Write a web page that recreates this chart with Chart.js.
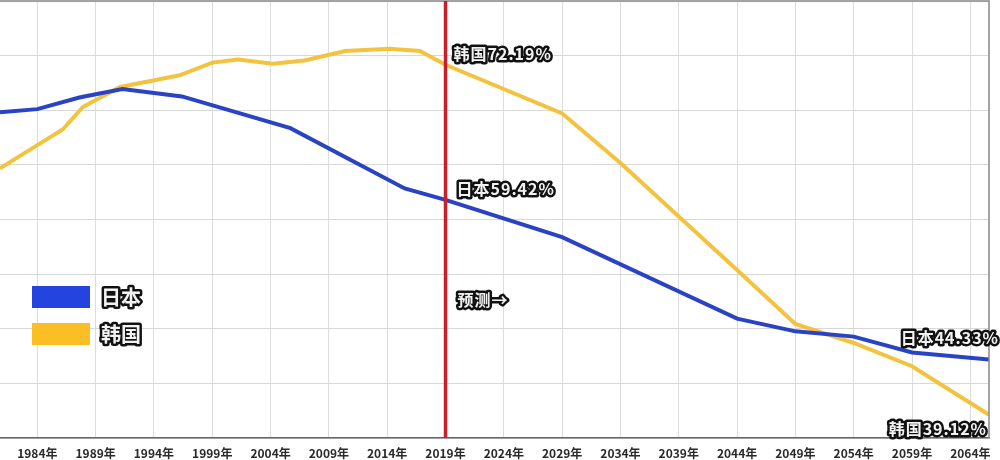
<!DOCTYPE html>
<html lang="zh-CN">
<head>
    <meta charset="UTF-8">
    <title>日本 韩国</title>
    <script src="https://cdn.jsdelivr.net/npm/chart.js"></script>
    <style>
        body {
            margin: 0;
            padding: 0;
            background: #fff;
        }
        .chart-box {
            width: 1000px;
            height: 460px;
        }
    </style>
</head>
<body>
    <div class="chart-box">
        <canvas id="ratioChart"></canvas>
    </div>
    <script>
        // 数据
        const japanYears = [1980.8, 1984, 1987.6, 1991.3, 1996.4, 2005.7, 2015.5, 2019, 2029, 2044, 2049, 2054, 2059, 2065.6];
        const japanValues = [67.7, 68.0, 69.1, 69.9, 69.2, 66.2, 60.5, 59.42, 55.9, 48.2, 47.0, 46.5, 45.0, 44.33];

        const koreaYears = [1980.8, 1984, 1986.2, 1987.9, 1991.1, 1996.2, 1999, 2001.2, 2004.2, 2006.9, 2010.4, 2014.2, 2016.8, 2019, 2029, 2034, 2044, 2049, 2054, 2059, 2065.6];
        const koreaValues = [62.4, 64.6, 66.1, 68.2, 70.1, 71.2, 72.4, 72.7, 72.3, 72.6, 73.5, 73.7, 73.5, 72.19, 67.6, 62.9, 52.8, 47.7, 45.9, 43.7, 39.12];

        const tickYears = [1979, 1984, 1989, 1994, 1999, 2004, 2009, 2014, 2019, 2024, 2029, 2034, 2039, 2044, 2049, 2054, 2059, 2064];
        const tickLabels = ['1979年', '1984年', '1989年', '1994年', '1999年', '2004年', '2009年', '2014年', '2019年', '2024年', '2029年', '2034年', '2039年', '2044年', '2049年', '2054年', '2059年', '2064年'];

        const forecastYear = 2019;
        const forecastText = '预测→';

        const BLUE = '#2a43c4';
        const YELLOW = '#f3c33f';
        const FONT = '"Noto Sans CJK SC", "Noto Sans", sans-serif';

        function toPoints(xs, ys) {
            return xs.map((x, i) => ({ x: x, y: ys[i] }));
        }

        // 黑边白字
        function outlineText(ctx, text, x, y, size, align, spacing) {
            ctx.save();
            ctx.font = 'bold ' + size + 'px ' + FONT;
            ctx.letterSpacing = (spacing || 0) + 'px';
            ctx.textAlign = align || 'left';
            ctx.textBaseline = 'middle';
            ctx.lineJoin = 'round';
            ctx.lineWidth = 5;
            ctx.strokeStyle = '#111';
            ctx.strokeText(text, x, y);
            ctx.fillStyle = '#f2f2f2';
            ctx.fillText(text, x, y);
            ctx.restore();
        }

        const overlay = {
            id: 'overlay',
            beforeDraw(chart) {
                const ctx = chart.ctx;
                ctx.save();
                ctx.fillStyle = '#fff';
                ctx.fillRect(0, 0, chart.width, chart.height);
                ctx.restore();
            },
            afterDatasetsDraw(chart) {
                const ctx = chart.ctx;
                const area = chart.chartArea;
                const x = chart.scales.x;
                const y = chart.scales.y;

                // 边框
                ctx.save();
                ctx.strokeStyle = '#888';
                ctx.lineWidth = 1.5;
                ctx.beginPath();
                ctx.moveTo(area.left, area.top);
                ctx.lineTo(area.right, area.top);
                ctx.lineTo(area.right, area.bottom);
                ctx.stroke();

                // 预测分界线
                const fx = x.getPixelForValue(forecastYear);
                ctx.strokeStyle = '#c8202a';
                ctx.lineWidth = 3.5;
                ctx.beginPath();
                ctx.moveTo(fx, area.top);
                ctx.lineTo(fx, area.bottom);
                ctx.stroke();
                ctx.restore();

                // 数值标注
                const jIdx = japanYears.indexOf(forecastYear);
                const kIdx = koreaYears.indexOf(forecastYear);
                const jLast = japanValues.length - 1;
                const kLast = koreaValues.length - 1;
                outlineText(ctx, '韩国' + koreaValues[kIdx].toFixed(2) + '%', fx + 8, y.getPixelForValue(koreaValues[kIdx]) - 11, 16, 'left', 1);
                outlineText(ctx, '日本' + japanValues[jIdx].toFixed(2) + '%', fx + 11, y.getPixelForValue(japanValues[jIdx]) - 11, 16, 'left', 1);
                outlineText(ctx, '日本' + japanValues[jLast].toFixed(2) + '%', x.getPixelForValue(japanYears[jLast]) + 10, y.getPixelForValue(japanValues[jLast]) - 22, 16, 'right', 1);
                outlineText(ctx, '韩国' + koreaValues[kLast].toFixed(2) + '%', x.getPixelForValue(koreaYears[kLast]) - 2, y.getPixelForValue(koreaValues[kLast]) + 14, 16, 'right', 1);
                outlineText(ctx, forecastText, fx + 12, y.getPixelForValue(50), 16, 'left', 1);

                // 图例
                chart.data.datasets.forEach((ds, i) => {
                    const top = area.top + 285 + i * 37;
                    ctx.fillStyle = i === 0 ? '#2344de' : '#fbbf25';
                    ctx.fillRect(area.left + 32, top, 58, 22);
                    outlineText(ctx, ds.label, area.left + 101, top + 11, 20, 'left', 0);
                });
            }
        };

        const ctx = document.getElementById('ratioChart').getContext('2d');
        new Chart(ctx, {
            type: 'line',
            data: {
                datasets: [{
                    label: '日本',
                    data: toPoints(japanYears, japanValues),
                    borderColor: BLUE,
                    borderWidth: 4,
                    pointRadius: 0,
                    tension: 0
                }, {
                    label: '韩国',
                    data: toPoints(koreaYears, koreaValues),
                    borderColor: YELLOW,
                    borderWidth: 4,
                    pointRadius: 0,
                    tension: 0
                }]
            },
            options: {
                responsive: true,
                maintainAspectRatio: false,
                animation: false,
                layout: {
                    padding: { left: 0, right: 11, top: 1, bottom: 0 }
                },
                plugins: {
                    legend: { display: false },
                    tooltip: { enabled: false }
                },
                scales: {
                    x: {
                        type: 'linear',
                        min: japanYears[0],
                        max: japanYears[japanYears.length - 1],
                        afterBuildTicks: (scale) => {
                            scale.ticks = tickYears.map(v => ({ value: v }));
                        },
                        afterFit: (scale) => {
                            scale.height = 22;
                            scale.paddingLeft = 0;
                            scale.paddingRight = 0;
                        },
                        ticks: {
                            autoSkip: false,
                            maxRotation: 0,
                            padding: 8,
                            color: '#2a2a2a',
                            font: { family: FONT, size: 12, weight: 'bold' },
                            callback: (v, i) => tickLabels[i]
                        },
                        grid: {
                            color: '#dcdcdc',
                            lineWidth: 1,
                            drawTicks: false
                        },
                        border: { color: '#666', width: 1.5 }
                    },
                    y: {
                        min: 36.92,
                        max: 78.22,
                        ticks: { display: false, count: 9 },
                        afterFit: (scale) => { scale.width = 0; },
                        grid: {
                            color: '#d8d8d8',
                            lineWidth: 1,
                            drawTicks: false
                        },
                        border: { display: false }
                    }
                }
            },
            plugins: [overlay]
        });
    </script>
</body>
</html>
